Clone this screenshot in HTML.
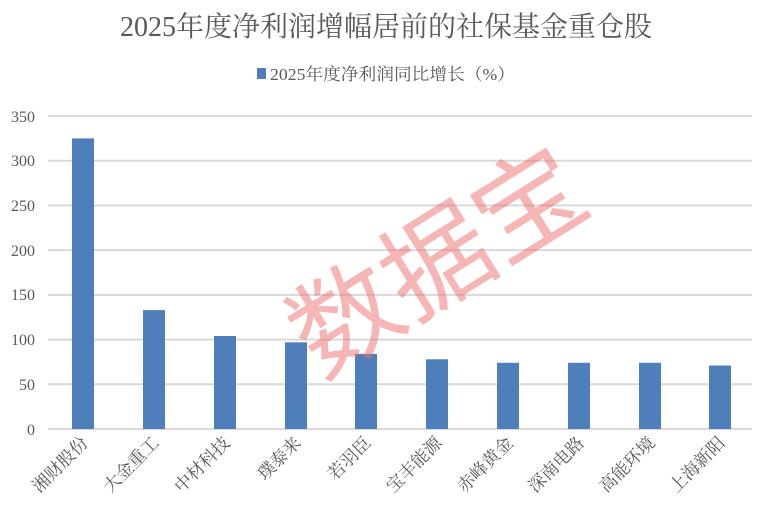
<!DOCTYPE html>
<html><head><meta charset="utf-8"><style>
body{margin:0;background:#fff;}
</style></head><body>
<svg width="762" height="516" xmlns="http://www.w3.org/2000/svg">
<rect width="762" height="516" fill="#fff"/>
<text x="386" y="36" text-anchor="middle" font-family="Liberation Serif, Noto Serif CJK SC, serif" font-size="28" fill="#595959" textLength="532" lengthAdjust="spacingAndGlyphs">2025年度净利润增幅居前的社保基金重仓股</text>
<g stroke="#d9d9d9" stroke-width="2">
<line x1="48" x2="752" y1="116" y2="116"/>
<line x1="48" x2="752" y1="160.7" y2="160.7"/>
<line x1="48" x2="752" y1="205.4" y2="205.4"/>
<line x1="48" x2="752" y1="250.1" y2="250.1"/>
<line x1="48" x2="752" y1="294.9" y2="294.9"/>
<line x1="48" x2="752" y1="339.6" y2="339.6"/>
<line x1="48" x2="752" y1="384.3" y2="384.3"/>
<line x1="48" x2="752" y1="429" y2="429"/>
</g>
<g font-family="Liberation Serif, serif" font-size="16" fill="#595959" text-anchor="end">
<text x="35" y="122">350</text><text x="35" y="166">300</text><text x="35" y="211">250</text><text x="35" y="256">200</text><text x="35" y="300">150</text><text x="35" y="345">100</text><text x="35" y="390">50</text><text x="35" y="435">0</text>
</g>
<g fill="#4e7fbb">
<rect x="72" y="138.4" width="22" height="290.6"/>
<rect x="143" y="310.1" width="22" height="118.9"/>
<rect x="214" y="336" width="22" height="93"/>
<rect x="285" y="342.3" width="22" height="86.7"/>
<rect x="355" y="353.9" width="22" height="75.1"/>
<rect x="426" y="359.3" width="22" height="69.7"/>
<rect x="497" y="362.8" width="22" height="66.2"/>
<rect x="568" y="362.8" width="22" height="66.2"/>
<rect x="639" y="362.8" width="22" height="66.2"/>
<rect x="709" y="365.5" width="22" height="63.5"/>
</g>
<g font-family="Liberation Serif, Noto Serif CJK SC, serif" font-size="17.5" fill="#595959" text-anchor="end">
<text transform="translate(89,444) rotate(-45)">湘财股份</text>
<text transform="translate(160,444) rotate(-45)">大金重工</text>
<text transform="translate(231,444) rotate(-45)">中材科技</text>
<text transform="translate(302,444) rotate(-45)">璞泰来</text>
<text transform="translate(372,444) rotate(-45)">若羽臣</text>
<text transform="translate(443,444) rotate(-45)">宝丰能源</text>
<text transform="translate(514,444) rotate(-45)">赤峰黄金</text>
<text transform="translate(585,444) rotate(-45)">深南电路</text>
<text transform="translate(656,444) rotate(-45)">高能环境</text>
<text transform="translate(726,444) rotate(-45)">上海新阳</text>
</g>
<rect x="257" y="68" width="9" height="11" fill="#4e7fbb"/>
<text x="270" y="80" font-family="Liberation Serif, Noto Serif CJK SC, serif" font-size="17" fill="#595959" textLength="245" lengthAdjust="spacingAndGlyphs">2025年度净利润同比增长（%）</text>
<text transform="translate(433,255) rotate(-32)" text-anchor="middle" dominant-baseline="central" font-family="Noto Sans CJK SC, sans-serif" font-size="108" fill="rgba(240,110,110,0.5)">数据宝</text>
</svg>
</body></html>
